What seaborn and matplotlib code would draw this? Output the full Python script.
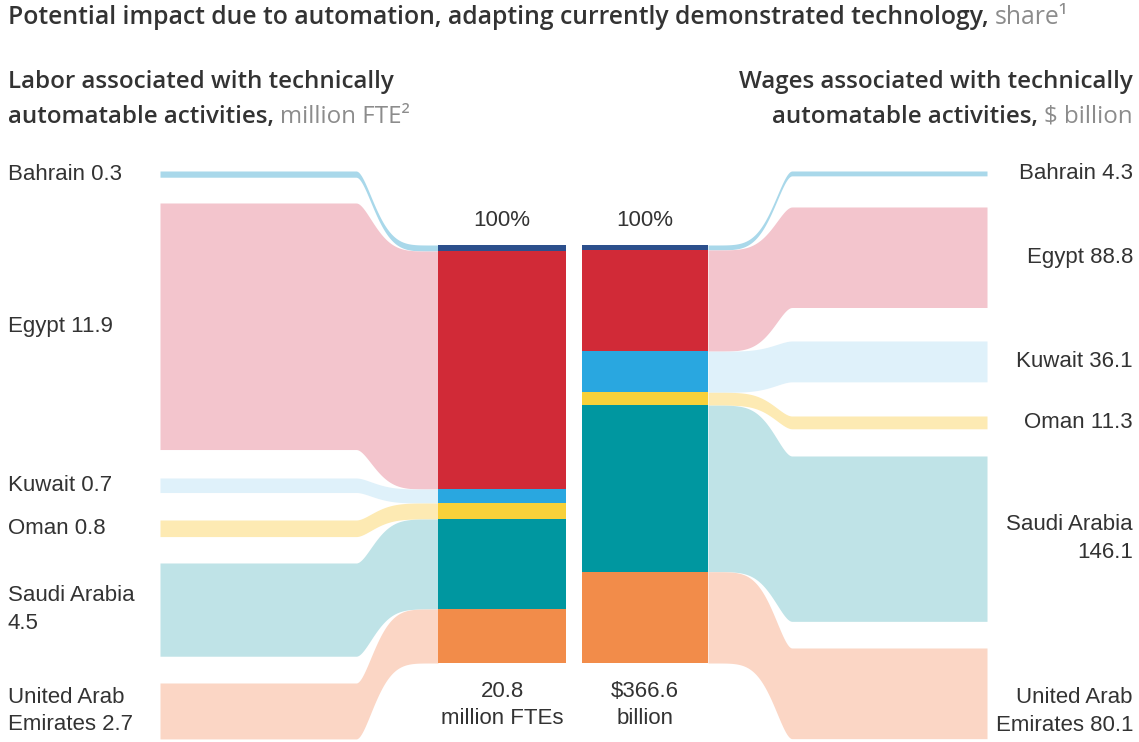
import numpy as np
import seaborn as sns
import matplotlib.pyplot as plt

# data
countries = ['Bahrain', 'Egypt', 'Kuwait', 'Oman', 'Saudi Arabia', 'United Arab Emirates']
labor = [0.3, 11.9, 0.7, 0.8, 4.5, 2.7]          # million FTE
wages = [4.3, 88.8, 36.1, 11.3, 146.1, 80.1]     # $ billion
left_labels = ['Bahrain 0.3', 'Egypt 11.9', 'Kuwait 0.7', 'Oman 0.8',
               'Saudi Arabia\n4.5', 'United Arab\nEmirates 2.7']
right_labels = ['Bahrain 4.3', 'Egypt 88.8', 'Kuwait 36.1', 'Oman 11.3',
                'Saudi Arabia\n146.1', 'United Arab\nEmirates 80.1']
totals = ['20.8\nmillion FTEs', '$366.6\nbillion']

bar_cols = ['#2c4f8c', '#d12a37', '#29a7e0', '#f8d13a', '#0097a0', '#f28c4a']
flow_cols = ['#a9d8ea', '#f3c5cd', '#dff1fa', '#fdeab3', '#bfe3e7', '#fbd6c5']

sns.set_theme(style='white')
plt.rcParams['font.family'] = ['Liberation Sans', 'DejaVu Sans']
txt = '#333333'
grey = '#8c8c8c'
head = dict(family=['Open Sans', 'DejaVu Sans'], fontweight=600, color=txt)
sub = dict(family=['Open Sans', 'DejaVu Sans'], color=grey)

fig = plt.figure(figsize=(11.39, 7.42), dpi=100)
ax = fig.add_axes([0, 0, 1, 1])
ax.set_xlim(0, 1139)
ax.set_ylim(742, 0)
ax.axis('off')

# layout (pixels)
bar_top, bar_bot = 245, 663
lx0, lx1, lbar0, lbar1 = 160, 356, 438, 566
rbar0, rbar1, rx0, rx1 = 582, 708, 792, 987
left_tops = [171, 203, 478, 520, 563, 683]
right_tops = [171, 207, 341, 416, 456, 648]
left_span, right_span = 433, 415
right_lab_shift = [0, 0, 0, 0, 0, 18]


def ease(t):
    t = 1 - (1 - np.clip(t, 0, 1)) ** 2.5
    return 3 * t ** 2 - 2 * t ** 3


for vals, side in [(labor, 'L'), (wages, 'R')]:
    vals = np.array(vals)
    scale = (bar_bot - bar_top) / vals.sum()
    h = vals * scale
    bar_y = bar_top + np.concatenate([[0], np.cumsum(h)[:-1]])
    if side == 'L':
        band_y = np.array(left_tops)
        bh = vals * left_span / vals.sum()
        x = np.linspace(lx0, lbar0, 500)
        t = (x - lx1) / (lbar0 - lx1)
        b0, b1 = lbar0, lbar1
        labs, lx, ha = left_labels, 8, 'left'
        shift = [0] * len(vals)
    else:
        band_y = np.array(right_tops)
        bh = vals * right_span / vals.sum()
        x = np.linspace(rbar1, rx1, 500)
        t = (rx0 - x) / (rx0 - rbar1)
        b0, b1 = rbar0, rbar1
        labs, lx, ha = right_labels, 1133, 'right'
        shift = right_lab_shift
    f = ease(t)
    for i in range(len(vals)):
        top = band_y[i] + (bar_y[i] - band_y[i]) * f
        bot = band_y[i] + bh[i] + (bar_y[i] + h[i] - band_y[i] - bh[i]) * f
        ax.fill_between(x, top, bot, color=flow_cols[i], lw=0)
        ax.bar((b0 + b1) / 2, h[i], bottom=bar_y[i], width=b1 - b0,
               color=bar_cols[i], lw=0)
        ax.text(lx, band_y[i] + bh[i] / 2 + shift[i], labs[i], ha=ha, va='center',
                fontsize=16, color=txt, linespacing=1.4)
    cx = (b0 + b1) / 2
    ax.text(cx, bar_top - 25, '100%', ha='center', va='center', fontsize=16, color=txt)
    ax.text(cx, 705, totals[0 if side == 'L' else 1], ha='center', va='center',
            fontsize=16, color=txt, linespacing=1.4)

# titles
t1 = ax.text(8, 18, 'Potential impact due to automation, adapting currently demonstrated technology, ',
             fontsize=17.8, va='center', **head)
ax.annotate('share\u00b9', xy=(1, 0), xycoords=t1, va='bottom', fontsize=17.8, **sub)

ax.text(8, 82, 'Labor associated with technically', fontsize=17.4, va='center', **head)
t2 = ax.text(8, 117, 'automatable activities, ', fontsize=17.4, va='center', **head)
ax.annotate('million FTE\u00b2', xy=(1, 0), xycoords=t2, va='bottom', fontsize=17.4, **sub)

ax.text(1133, 82, 'Wages associated with technically', fontsize=17.4, va='center',
        ha='right', **head)
t3 = ax.text(1133, 117, '$ billion', fontsize=17.4, va='center', ha='right', **sub)
ax.annotate('automatable activities, ', xy=(0, 0), xycoords=t3, va='bottom', ha='right',
            fontsize=17.4, **head)

fig.savefig('out.png', dpi=100, facecolor='white')
